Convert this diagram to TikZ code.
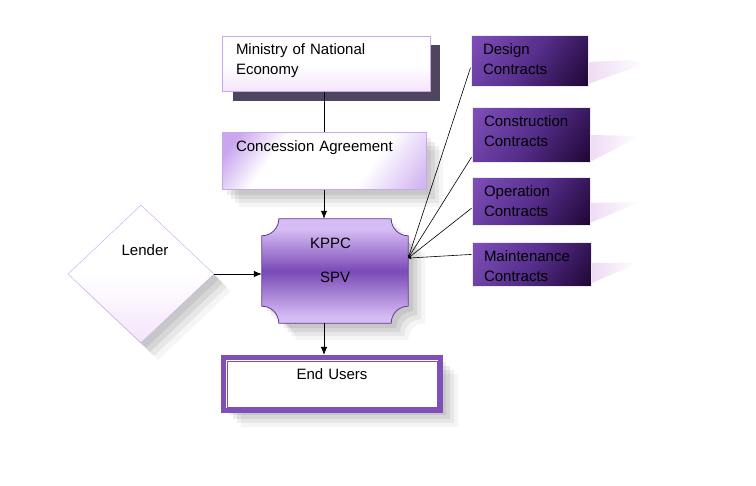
\documentclass[tikz,border=0pt]{standalone}
\usepackage{fontspec}
\setmainfont{Liberation Sans}
\usetikzlibrary{shapes.geometric,shadows,arrows.meta}

\definecolor{lightlilac}{RGB}{201,166,238}
\definecolor{paleblush}{RGB}{245,228,250}
\definecolor{shadowplum}{RGB}{78,70,96}
\definecolor{kppclight}{RGB}{214,188,244}
\definecolor{kppcdark}{RGB}{122,74,182}
\definecolor{kppcedge}{RGB}{96,56,150}
\definecolor{contlight}{RGB}{128,80,186}
\definecolor{contmid}{RGB}{86,46,140}
\definecolor{contdark}{RGB}{30,5,50}
\definecolor{endpurple}{RGB}{128,80,184}
\definecolor{tailpink}{RGB}{238,218,244}

\pgfdeclareverticalshading{contshade}{100bp}{color(0bp)=(contdark); color(15bp)=(contdark); color(50bp)=(contmid); color(85bp)=(contlight); color(100bp)=(contlight)}
\pgfdeclareverticalshading{kppcshade}{100bp}{color(0bp)=(kppclight); color(28bp)=(kppclight); color(50bp)=(kppcdark); color(70bp)=(kppclight); color(100bp)=(kppclight)}
\pgfdeclarehorizontalshading{concshade}{100bp}{color(0bp)=(lightlilac); color(20bp)=(lightlilac); color(34bp)=(white); color(64bp)=(white); color(82bp)=(lightlilac!80!white); color(100bp)=(lightlilac)}

\begin{document}
\begin{tikzpicture}[x=1pt, y=1pt,
  >={Latex[length=8pt,width=6.5pt]},
  txt/.style={font=\fontsize{15}{20}\selectfont, align=left, inner ysep=0pt},
  blurshadow/.style={
    drop shadow={shadow xshift=5pt, shadow yshift=-5pt, opacity=.07, fill=black},
    drop shadow={shadow xshift=9pt, shadow yshift=-9pt, opacity=.07, fill=black},
    drop shadow={shadow xshift=13pt, shadow yshift=-13pt, opacity=.06, fill=black},
    drop shadow={shadow xshift=17pt, shadow yshift=-17pt, opacity=.04, fill=black}},
  whitebox/.style={txt, draw=lightlilac, line width=1pt, top color=white, bottom color=paleblush, middle color=white},
  contbox/.style={txt, draw=black!8, line width=1pt, shading=contshade, shading angle=55, inner xsep=12pt, text height=19pt},
  tail/.style={left color=tailpink, right color=white, draw=none}]

  \useasboundingbox (0,0) rectangle (756,486);

  % Pale tails behind the contract boxes
  \shade[tail] (588,424) -- (633,426) -- (645,422) -- (588,402) -- cycle;
  \shade[tail] (590,351) -- (640,350) -- (590,324) -- cycle;
  \shade[tail] (590,283) -- (640,284) -- (590,263) -- cycle;
  \shade[tail] (592,223) -- (638,223) -- (592,203) -- cycle;

  % Ministry with its hard dark shadow
  \fill[shadowplum] (233,441) rectangle (440,385);
  \node[whitebox, inner xsep=14pt, text width=180pt, text height=18pt, text depth=37pt]
    (ministry) at (326,421.5) {Ministry of National\\Economy};

  % Concession agreement
  \node[txt, blurshadow, draw=lightlilac, line width=1pt, shading=concshade, shading angle=-35,
    inner xsep=14pt, text width=176pt, text height=19pt, text depth=38pt]
    (concession) at (324,324.5) {Concession Agreement};

  % Lender
  \node[diamond, blurshadow, draw=lightlilac, top color=white, bottom color=paleblush, middle color=white,
    minimum width=146pt, minimum height=138pt, inner sep=0pt,
    label={[font=\fontsize{15}{20}\selectfont, shift={(4pt,24pt)}]center:Lender}]
    (lender) at (141,212) {};

  % KPPC / SPV with concave corners
  \node[txt, inner xsep=48pt, text width=50pt, text height=30pt, text depth=74pt]
    (kppc) at (335,215) {};
  \shade[blurshadow, draw=kppcedge, line width=.8pt, shading=kppcshade]
    ([xshift=17pt]kppc.north west) -- ([xshift=-17pt]kppc.north east)
    arc[start angle=180, end angle=270, radius=17pt]
    -- ([yshift=17pt]kppc.south east)
    arc[start angle=90, end angle=180, radius=17pt]
    -- ([xshift=17pt]kppc.south west)
    arc[start angle=0, end angle=90, radius=17pt]
    -- ([yshift=-17pt]kppc.north west)
    arc[start angle=270, end angle=360, radius=17pt] -- cycle;
  \node[txt, inner xsep=48pt, text width=50pt, text height=30pt, text depth=74pt]
    at (kppc) {KPPC\\[14pt]\hspace*{10pt}SPV};

  % End users
  \node[txt, blurshadow, fill=white, draw=endpurple, line width=5pt, align=center,
    inner xsep=0pt, text width=217pt, text height=22.5pt, text depth=30.5pt]
    (endusers) at (332,102) {End Users};
  \draw[endpurple, line width=.8pt] ([shift={(6,6)}]endusers.south west) rectangle ([shift={(-6,-6)}]endusers.north east);

  % Contract boxes
  \node[contbox, text width=93pt, text depth=32pt] (design) at (529.5,424.5) {Design\\Contracts};
  \node[contbox, text width=94pt, text depth=36pt] (construction) at (531,350.5) {Construction\\Contracts};
  \node[contbox, text width=94pt, text depth=29pt] (operation) at (531,284) {Operation\\Contracts};
  \node[contbox, text width=95pt, text depth=25pt] (maintenance) at (531.5,221) {Maintenance\\Contracts};

  % Connectors
  \draw[line width=.8pt] (ministry.south -| concession.south) -- (concession.north);
  \draw[->, line width=.8pt] (concession.south) -- (concession.south |- kppc.north);
  \draw[->, line width=.8pt] (lender.east) -- (lender.east -| kppc.west);
  \draw[->, line width=.8pt] (kppc.south -| concession.south) -- (endusers.north -| concession.south);

  % Fan of contract lines into KPPC
  \foreach \contract/\ang in {design/186, construction/200, operation/186, maintenance/170}
    \draw[line width=.6pt, -{Latex[length=3pt,width=3pt]}] (\contract.\ang) -- (kppc.10);
\end{tikzpicture}
\end{document}
